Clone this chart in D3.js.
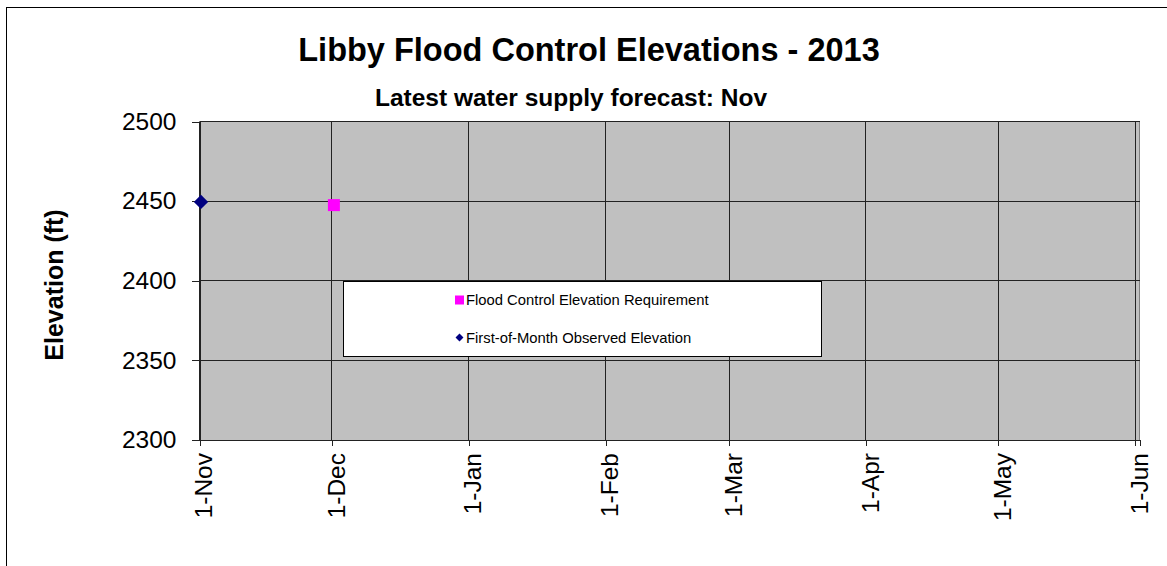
<!DOCTYPE html>
<html>
<head>
<meta charset="utf-8">
<script src="https://cdn.jsdelivr.net/npm/d3@7"></script>
<style>
  body { margin: 0; background: #fff; }
  svg { display: block; font-family: Arial, "Liberation Sans", sans-serif; }
</style>
</head>
<body>
<div id="chart"></div>
<script>
// Chart data
const observedDates = ["2013-11-01"];
const observedElev = [2450];
const requirementDates = ["2013-12-01"];
const requirementElev = [2448];
const yTicks = [2300, 2350, 2400, 2450, 2500];
const monthTicks = ["2013-11-01", "2013-12-01", "2014-01-01", "2014-02-01",
                    "2014-03-01", "2014-04-01", "2014-05-01", "2014-06-01"];
const legendLabels = ["Flood Control Elevation Requirement", "First-of-Month Observed Elevation"];

const width = 1167, height = 566;
const parse = d3.timeParse("%Y-%m-%d");
const fmt = d3.timeFormat("%-d-%b");

const plot = { left: 199.5, right: 1139.5, top: 121.5, bottom: 440 };

const svg = d3.select("#chart").append("svg")
  .attr("width", width)
  .attr("height", height);

// outer chart border (right / bottom edges fall outside the view)
svg.append("rect")
  .attr("x", 6.5).attr("y", 7.5)
  .attr("width", 1200).attr("height", 600)
  .attr("fill", "#fff")
  .attr("stroke", "#000");

const x = d3.scaleTime()
  .domain([parse("2013-11-01"), parse("2014-06-02")])
  .range([plot.left, plot.right]);
const y = d3.scaleLinear()
  .domain([2300, 2500])
  .range([plot.bottom, plot.top]);

// plot area
svg.append("rect")
  .attr("x", plot.left).attr("y", plot.top)
  .attr("width", plot.right - plot.left)
  .attr("height", plot.bottom - plot.top)
  .attr("fill", "#c0c0c0")
  .attr("stroke", "#808080")
  .attr("shape-rendering", "crispEdges");

const months = monthTicks.map(parse);

// gridlines
svg.append("g")
  .selectAll("line")
  .data(yTicks)
  .enter().append("line")
  .attr("x1", plot.left).attr("x2", plot.right)
  .attr("y1", d => y(d)).attr("y2", d => y(d))
  .attr("stroke", "#222")
  .attr("shape-rendering", "crispEdges");

svg.append("g")
  .selectAll("line")
  .data(months)
  .enter().append("line")
  .attr("x1", d => x(d)).attr("x2", d => x(d))
  .attr("y1", plot.top).attr("y2", plot.bottom)
  .attr("stroke", "#222")
  .attr("shape-rendering", "crispEdges");

// y axis
const yAxis = svg.append("g")
  .attr("transform", `translate(${plot.left},0)`)
  .call(d3.axisLeft(y).tickValues(yTicks).tickSize(8).tickPadding(15).tickFormat(d3.format("d")));
yAxis.select(".domain").attr("stroke", "#222").attr("shape-rendering", "crispEdges");
yAxis.selectAll(".tick line").attr("stroke", "#222").attr("shape-rendering", "crispEdges");
yAxis.selectAll("text")
  .style("font-family", 'Arial, "Liberation Sans", sans-serif')
  .style("font-size", "24.5px")
  .attr("fill", "#000");

// x axis
const xAxis = svg.append("g")
  .attr("transform", `translate(0,${plot.bottom})`)
  .call(d3.axisBottom(x).tickValues(months).tickSize(6).tickFormat(fmt));
xAxis.select(".domain").attr("stroke", "#222").attr("shape-rendering", "crispEdges");
xAxis.selectAll(".tick line").attr("stroke", "#222").attr("shape-rendering", "crispEdges");
xAxis.selectAll("text")
  .attr("transform", "translate(0,13) rotate(-90)")
  .attr("x", 0).attr("y", 0)
  .attr("dy", "0.5em")
  .attr("text-anchor", "end")
  .style("font-family", 'Arial, "Liberation Sans", sans-serif')
  .style("font-size", "24.5px")
  .attr("fill", "#000");

// markers
const diamond = d3.symbol().type(d3.symbolDiamond2).size(130);

svg.append("g")
  .selectAll("path")
  .data(observedDates.map((d, i) => ({ date: parse(d), value: observedElev[i] })))
  .enter().append("path")
  .attr("d", diamond)
  .attr("transform", d => `translate(${x(d.date) + 1.5},${y(d.value) + 0.8})`)
  .attr("fill", "#000080");

svg.append("g")
  .selectAll("rect")
  .data(requirementDates.map((d, i) => ({ date: parse(d), value: requirementElev[i] })))
  .enter().append("rect")
  .attr("x", d => x(d.date) + 2 - 6)
  .attr("y", d => y(d.value) + 0.8 - 6)
  .attr("width", 12).attr("height", 12)
  .attr("fill", "#ff00ff");

// legend
const legend = svg.append("g").attr("transform", "translate(343.5,281.5)");
legend.append("rect")
  .attr("width", 478).attr("height", 75)
  .attr("fill", "#fff")
  .attr("stroke", "#000")
  .attr("shape-rendering", "crispEdges");

const legendRows = legendLabels.map((label, i) => ({ label, i }));
const rows = legend.selectAll(".row")
  .data(legendRows)
  .enter().append("g")
  .attr("class", "row")
  .attr("transform", d => `translate(116,${d.i === 0 ? 18.5 : 56})`);

rows.filter(d => d.i === 0).append("rect")
  .attr("x", -4.5).attr("y", -4.5)
  .attr("width", 9).attr("height", 9)
  .attr("fill", "#ff00ff");
rows.filter(d => d.i === 1).append("path")
  .attr("d", d3.symbol().type(d3.symbolDiamond2).size(40))
  .attr("fill", "#000080");

rows.append("text")
  .attr("x", 6.5)
  .attr("dy", "0.35em")
  .style("font-size", "14.8px")
  .attr("fill", "#000")
  .text(d => d.label);

// titles
svg.append("text")
  .attr("x", 589).attr("y", 61)
  .attr("text-anchor", "middle")
  .style("font-size", "32.5px")
  .style("font-weight", "bold")
  .text("Libby Flood Control Elevations - 2013");

svg.append("text")
  .attr("x", 571).attr("y", 106)
  .attr("text-anchor", "middle")
  .style("font-size", "24.5px")
  .style("font-weight", "bold")
  .text("Latest water supply forecast: Nov");

svg.append("text")
  .attr("transform", "translate(63,285) rotate(-90)")
  .attr("text-anchor", "middle")
  .style("font-size", "25px")
  .style("font-weight", "bold")
  .text("Elevation (ft)");
</script>
</body>
</html>
